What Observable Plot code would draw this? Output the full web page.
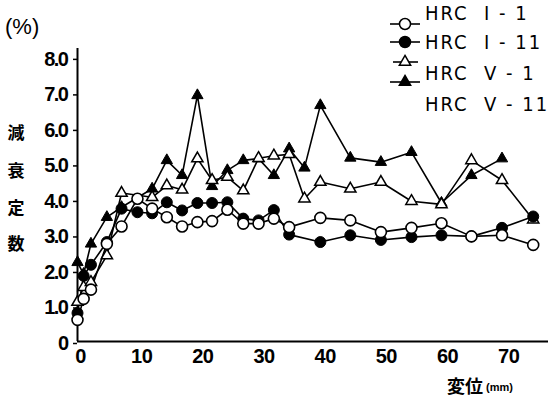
<!DOCTYPE html>
<html><head><meta charset="utf-8">
<script src="https://cdn.jsdelivr.net/npm/d3@7"></script>
<script src="https://cdn.jsdelivr.net/npm/@observablehq/plot@0.6"></script>
<style>
html,body{margin:0;padding:0;background:#fff;}
#chart{width:554px;height:398px;position:relative;}
</style></head><body><div id="chart"></div>
<script>
// displacement (mm)
const displacement = [0,1,2.2,4.8,7.2,9.8,12.2,14.6,17.1,19.6,22,24.5,27.1,29.6,32.1,34.6,37.1,39.7,44.6,49.6,54.6,59.5,64.4,69.4,74.5];
// damping constant (%)
const hrcI1  = [0.61,1.2,1.46,2.75,3.24,4.02,3.74,3.50,3.24,3.36,3.39,3.71,3.32,3.32,3.46,3.22,null,3.48,3.41,3.08,3.20,3.33,2.96,2.99,2.72];
const hrcI11 = [0.8,1.85,2.16,2.8,3.74,3.64,3.61,3.92,3.69,3.90,3.90,3.92,3.46,3.41,3.70,3.01,null,2.80,2.99,2.86,2.94,2.99,2.96,3.20,3.52];
const hrcV1  = [1.11,1.53,1.67,2.42,4.18,null,4.06,4.39,4.27,5.15,4.54,4.63,4.25,5.16,5.23,5.27,4.02,4.49,4.30,4.49,3.95,3.86,5.10,4.54,3.43];
const hrcV11 = [2.23,1.9,2.75,3.50,3.78,null,4.30,5.10,4.68,6.93,4.37,4.82,5.10,5.15,4.68,5.43,4.89,6.65,5.17,5.05,5.33,3.90,4.68,5.15,null];
const seriesNames = ["HRC  I - 1","HRC  I - 11","HRC  V - 1","HRC  V - 11"];
const yTicks = [0,1,2,3,4,5,6,7,8];
const xTicks = [0,10,20,30,40,50,60,70];
const yTitleChars = ["減","衰","定","数"];

const rows = (vals) => displacement.map((x,i)=>({x, y: vals[i]})).filter(d => d.y != null);
const dI1 = rows(hrcI1), dI11 = rows(hrcI11), dV1 = rows(hrcV1), dV11 = rows(hrcV11);

const circR = 5.5, triR = 4.2;
const lineOpts = {x:"x", y:"y", stroke:"black", strokeWidth:1.6};

const plot = Plot.plot({
  width: 554, height: 398,
  marginLeft: 77, marginRight: 6, marginTop: 48, marginBottom: 57,
  x: {domain: [0, 77]},
  y: {domain: [0, 8.25]},
  style: {background: "white", color: "black", fontFamily: "'Liberation Sans', Arial, sans-serif"},
  marks: [
    Plot.axisY(yTicks, {tickSize: 4, tickPadding: 6, fontSize: 20, fontWeight: "bold", dy: 2,
      tickFormat: d => d === 0 ? "0" : d.toFixed(1), label: null, strokeWidth: 1.5}),
    Plot.axisX(xTicks, {tickSize: 0, tickPadding: 7, fontSize: 20, fontWeight: "bold", dx: 3, label: null}),
    Plot.ruleX([0], {strokeWidth: 2}),
    Plot.ruleY([0], {strokeWidth: 2}),
    Plot.line(dV11, lineOpts),
    Plot.line(dV1, lineOpts),
    Plot.line(dI11, lineOpts),
    Plot.line(dI1, lineOpts),
    Plot.dot(dV11, {x:"x", y:"y", symbol:"triangle", r: triR, fill:"black", stroke:"black", strokeWidth:1}),
    Plot.dot(dV1, {x:"x", y:"y", symbol:"triangle", r: triR, fill:"white", stroke:"black", strokeWidth:1.5}),
    Plot.dot(dI11, {x:"x", y:"y", symbol:"circle", r: circR, fill:"black", stroke:"black", strokeWidth:1}),
    Plot.dot(dI1, {x:"x", y:"y", symbol:"circle", r: circR, fill:"white", stroke:"black", strokeWidth:1.6})
  ]
});
document.getElementById("chart").appendChild(plot);

const svg = d3.select(plot);
svg.selectAll('g[aria-label="y-axis tick label"] text').style("letter-spacing", "-1.5px");
svg.selectAll('g[aria-label="x-axis tick label"] text').style("letter-spacing", "-0.5px");

// y title
svg.append("text").attr("x", 5).attr("y", 28).attr("text-anchor", "start").attr("dominant-baseline", "middle")
  .attr("font-size", 22).attr("font-family", "'Liberation Sans', Arial, sans-serif").text("(%)");
const charY = [131, 169, 206, 242];
svg.append("g").selectAll("text").data(yTitleChars).join("text")
  .attr("x", 16).attr("y", (d,i) => charY[i]).attr("text-anchor", "middle").attr("dominant-baseline", "central")
  .attr("font-size", 17).attr("font-weight", "bold").attr("font-family", "'Noto Sans CJK JP', sans-serif").text(d => d);

// x title
const xt = svg.append("text").attr("x", 447).attr("y", 385).attr("text-anchor", "start").attr("dominant-baseline", "central")
  .attr("font-family", "'Noto Sans CJK JP', sans-serif");
xt.append("tspan").attr("font-size", 18).attr("font-weight", "bold").text("変位");
xt.append("tspan").attr("font-size", 11).attr("font-weight", "bold").attr("dx", 3).attr("dy", 2)
  .attr("font-family", "'Liberation Sans', Arial, sans-serif").text("(mm)");

// legend
const legSym = [
  {y: 24, type: d3.symbolCircle, r: circR, fill: "white", x0: 390, x1: 420},
  {y: 42, type: d3.symbolCircle, r: circR, fill: "black", x0: 390, x1: 420},
  {y: 62, type: d3.symbolTriangle, r: triR, fill: "white", x0: 393, x1: 418},
  {y: 82, type: d3.symbolTriangle, r: triR, fill: "black", x0: 390, x1: 420}
];
const legTextY = [12.5, 41.5, 73, 104];
const lg = svg.append("g");
legSym.forEach(s => {
  lg.append("line").attr("x1", s.x0).attr("x2", s.x1).attr("y1", s.y).attr("y2", s.y)
    .attr("stroke", "black").attr("stroke-width", 1.6);
  lg.append("path").attr("d", d3.symbol(s.type, Math.PI * s.r * s.r)())
    .attr("transform", `translate(405,${s.y})`).attr("fill", s.fill).attr("stroke", "black").attr("stroke-width", 1.5);
});
lg.selectAll("text").data(seriesNames).join("text")
  .attr("x", 425).attr("y", (d,i) => legTextY[i]).attr("text-anchor", "start").attr("dominant-baseline", "central")
  .attr("font-size", 20).attr("font-family", "'Liberation Sans Narrow', 'DejaVu Sans Condensed', sans-serif")
  .style("letter-spacing", "2px").style("white-space", "pre").text(d => d);
</script></body></html>
